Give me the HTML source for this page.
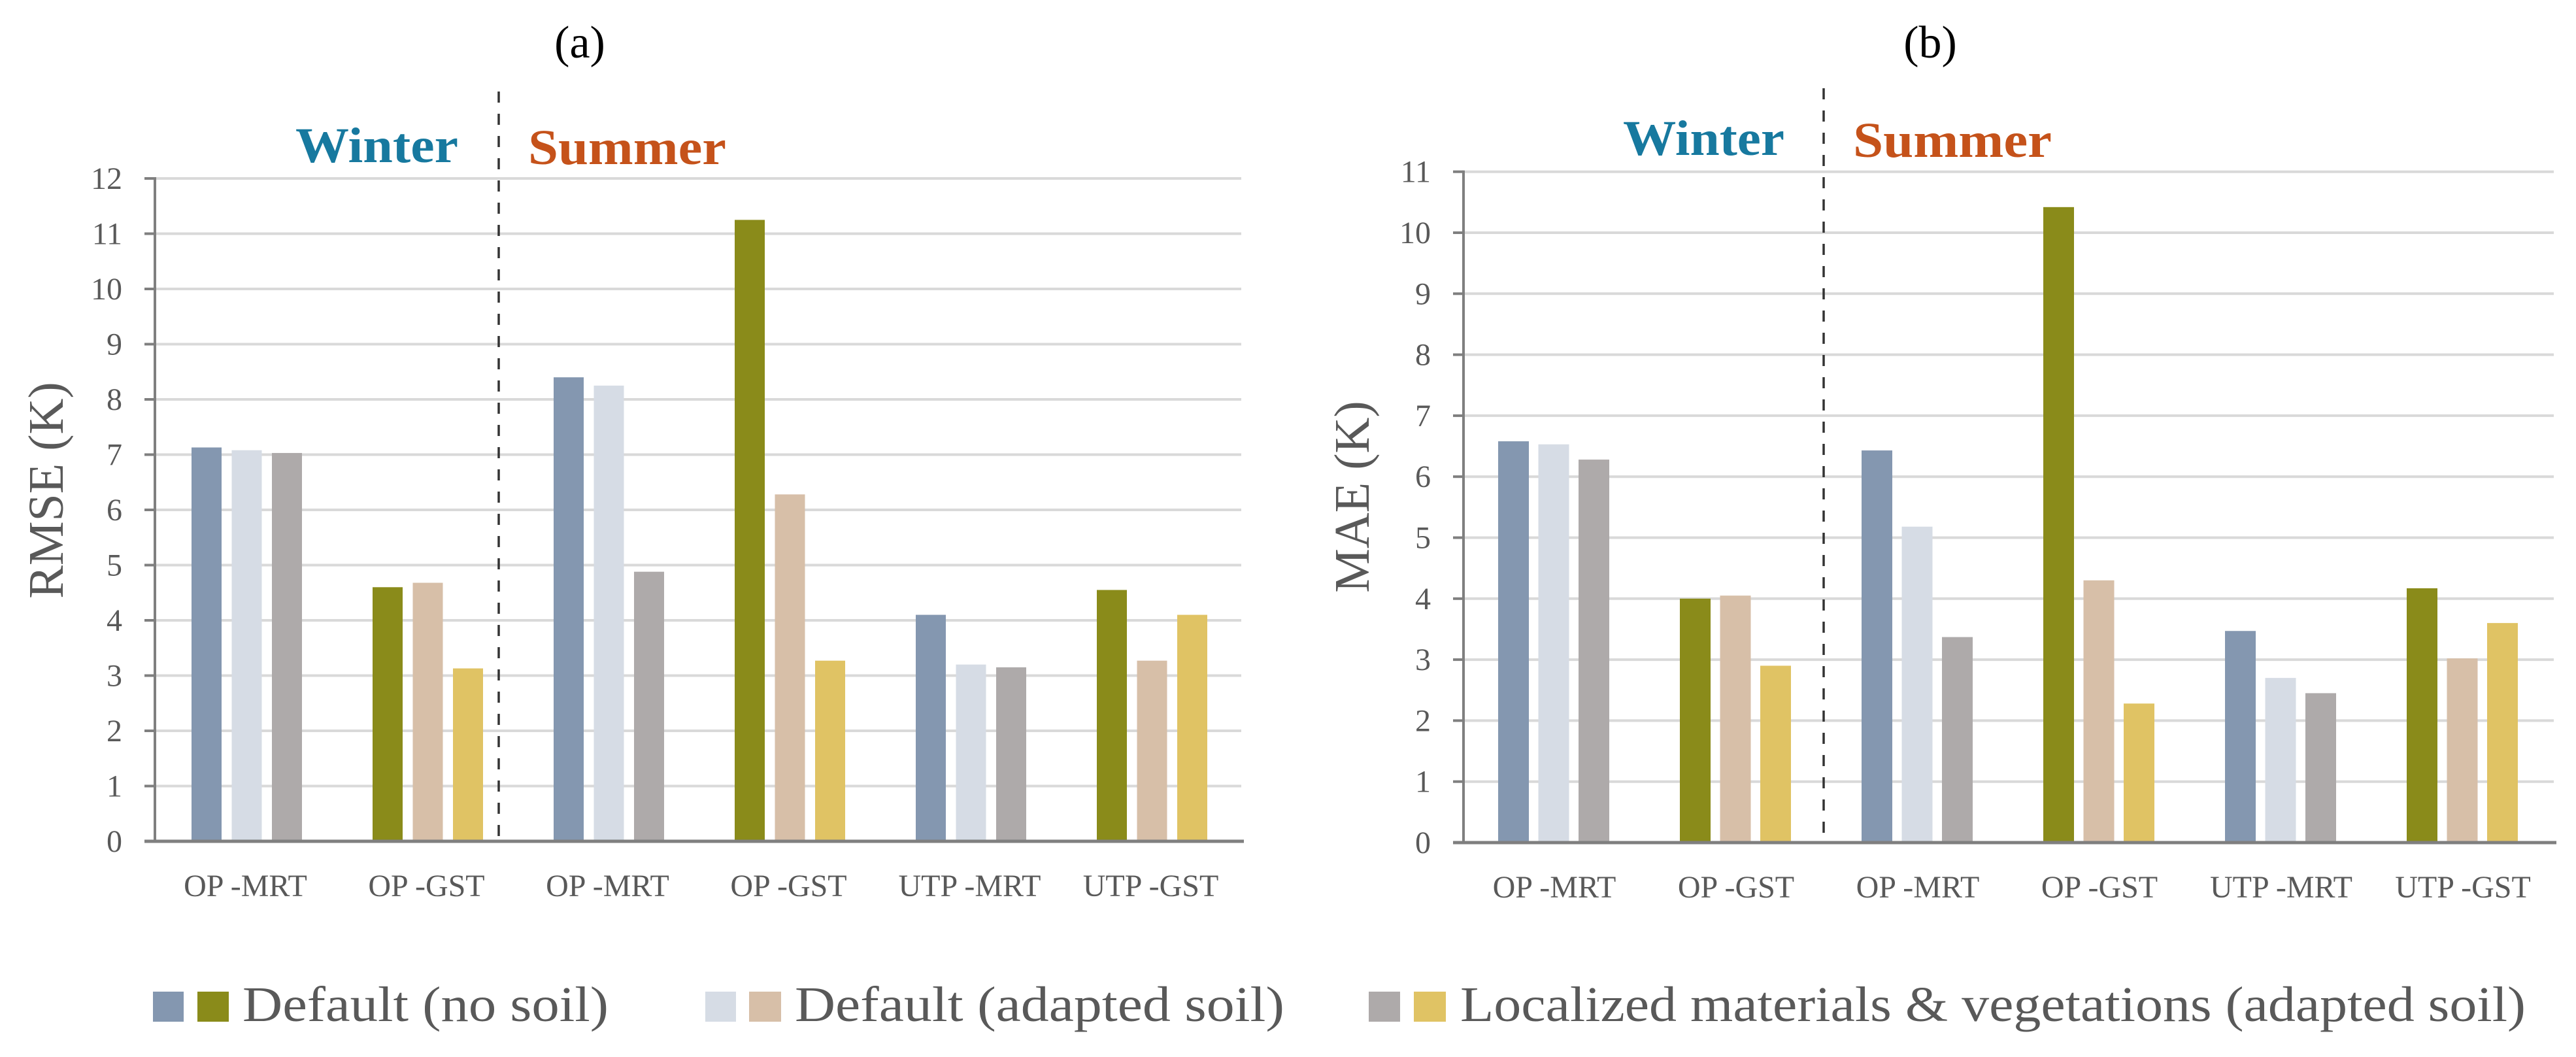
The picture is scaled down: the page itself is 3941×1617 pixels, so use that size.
<!DOCTYPE html>
<html><head><meta charset="utf-8"><style>
html,body{margin:0;padding:0;background:#fff;}
svg{display:block;font-family:"Liberation Serif",serif;}
</style></head><body>
<svg id="fig" width="3941" height="1617" viewBox="0 0 3941 1617" xmlns="http://www.w3.org/2000/svg">
<rect width="3941" height="1617" fill="#fff"/>
<g id="chartA"></g>
<g id="chartB"></g>
<g font-size="76" fill="#595959">
  <rect x="234" y="1517" width="47" height="46" fill="#8497b0"/>
  <rect x="302" y="1517" width="48" height="46" fill="#8a8b1a"/>
  <text x="371" y="1562" textLength="560" lengthAdjust="spacingAndGlyphs">Default (no soil)</text>
  <rect x="1079" y="1517" width="47" height="46" fill="#d6dce5"/>
  <rect x="1146" y="1517" width="49" height="46" fill="#d7bfa8"/>
  <text x="1216" y="1562" textLength="749" lengthAdjust="spacingAndGlyphs">Default (adapted soil)</text>
  <rect x="2094" y="1517" width="48" height="46" fill="#aeaaaa"/>
  <rect x="2163" y="1517" width="49" height="46" fill="#e0c364"/>
  <text x="2234" y="1562" textLength="1630" lengthAdjust="spacingAndGlyphs">Localized materials &amp; vegetations (adapted soil)</text>
</g>
</svg>
<script>
const categories = ["OP -MRT","OP -GST","OP -MRT","OP -GST","UTP -MRT","UTP -GST"];
const rmseDefaultNoSoil = [7.13, 4.60, 8.40, 11.25, 4.10, 4.55];
const rmseDefaultAdapted = [7.08, 4.68, 8.25, 6.28, 3.20, 3.27];
const rmseLocalized = [7.03, 3.13, 4.88, 3.27, 3.15, 4.10];
const maeDefaultNoSoil = [6.58, 4.00, 6.43, 10.42, 3.47, 4.17];
const maeDefaultAdapted = [6.53, 4.05, 5.18, 4.30, 2.70, 3.02];
const maeLocalized = [6.28, 2.90, 3.37, 2.28, 2.45, 3.60];
const rmseTicks = [0,1,2,3,4,5,6,7,8,9,10,11,12];
const maeTicks = [0,1,2,3,4,5,6,7,8,9,10,11];
const groupIsGST = [false,true,false,true,false,true];

const NS = "http://www.w3.org/2000/svg";
function mk(parent, tag, attrs){
  const e = document.createElementNS(NS, tag);
  for (const k in attrs) e.setAttribute(k, attrs[k]);
  parent.appendChild(e);
  return e;
}
const colsMRT = ["#8497b0","#d6dce5","#aeaaaa"];
const colsGST = ["#8a8b1a","#d7bfa8","#e0c364"];

function drawChart(g, cfg, series, ticks){
  const y = v => cfg.base - v * cfg.unit;
  const x0 = cfg.axisX, pitch = cfg.pitch;
  const yTop = y(ticks[ticks.length-1]);
  const right = x0 + pitch * categories.length;
  ticks.forEach(t => {
    if (t > 0) {
      const gl = mk(g, "line", {x1:x0, x2:right, y1:y(t), y2:y(t), stroke:"#d9d9d9", "stroke-width":4});
      
      
    }
    const tm = mk(g, "line", {x1:x0-16, x2:x0, y1:y(t), y2:y(t), stroke:"#7f7f7f", "stroke-width":4});
    
    
    const tl = mk(g, "text", {x:x0-50, y:y(t)+16, "text-anchor":"end", "font-size":48, fill:"#595959"});
    tl.textContent = t;
    
    
  });
  categories.forEach((c, i) => {
    const cols = groupIsGST[i] ? colsGST : colsMRT;
    const start = x0 + i * pitch + cfg.offset;
    series.forEach((s, j) => {
      const v = s[i];
      const b = mk(g, "rect", {x:start + j*cfg.step, y:y(v), width:cfg.barW, height:cfg.base - y(v), fill:cols[j]});
      
      
    });
    const cl = mk(g, "text", {x:x0 + i*pitch + pitch/2, y:cfg.base+84, "text-anchor":"middle", "font-size":48, fill:"#595959"});
    cl.textContent = c;
    
    
  });
  const ya = mk(g, "line", {x1:x0, x2:x0, y1:yTop-2, y2:cfg.base, stroke:"#7f7f7f", "stroke-width":4});
  
  
  const xa = mk(g, "line", {x1:x0-16, x2:right+4, y1:cfg.base, y2:cfg.base, stroke:"#7f7f7f", "stroke-width":5});
  
  
  const dl = mk(g, "line", {x1:cfg.divX, x2:cfg.divX, y1:cfg.divTop, y2:cfg.base, stroke:"#333", "stroke-width":3.5, "stroke-dasharray":"17 17"});
  
  
  const w = mk(g, "text", {x:cfg.winterX, y:cfg.seasonY, "font-size":76, "font-weight":"bold", fill:"#17799f", textLength:cfg.winterW, lengthAdjust:"spacingAndGlyphs"});
  w.textContent = "Winter";
  
  
  const s = mk(g, "text", {x:cfg.summerX, y:cfg.seasonY+3, "font-size":76, "font-weight":"bold", fill:"#c5521a", textLength:cfg.summerW, lengthAdjust:"spacingAndGlyphs"});
  s.textContent = "Summer";
  
  
  const pt = mk(g, "text", {x:cfg.titleX, y:cfg.titleY, "text-anchor":"middle", "font-size":70, fill:"#000"});
  pt.textContent = cfg.title;
  
  
  const yt = mk(g, "text", {x:0, y:0, "text-anchor":"middle", "font-size":76, fill:"#595959",
    transform:"translate(" + cfg.yTitleX + "," + cfg.yTitleY + ") rotate(-90)"});
  yt.textContent = cfg.yTitle;
  
  
}

drawChart(document.getElementById("chartA"), {
  base:1287, unit:84.5, axisX:237, pitch:277, offset:56, barW:46, step:61.5,
  divX:763, divTop:140, winterX:452, winterW:249, summerX:808, summerW:303, seasonY:248,
  title:"(a)", titleX:887, titleY:88, yTitle:"RMSE (K)", yTitleX:96, yTitleY:750
}, [rmseDefaultNoSoil, rmseDefaultAdapted, rmseLocalized], rmseTicks);

drawChart(document.getElementById("chartB"), {
  base:1289, unit:93.3, axisX:2239, pitch:278, offset:53, barW:47, step:61.5,
  divX:2790, divTop:135, winterX:2483, winterW:247, summerX:2835, summerW:304, seasonY:237,
  title:"(b)", titleX:2953, titleY:88, yTitle:"MAE (K)", yTitleX:2094, yTitleY:760
}, [maeDefaultNoSoil, maeDefaultAdapted, maeLocalized], maeTicks);
</script>
</body></html>
